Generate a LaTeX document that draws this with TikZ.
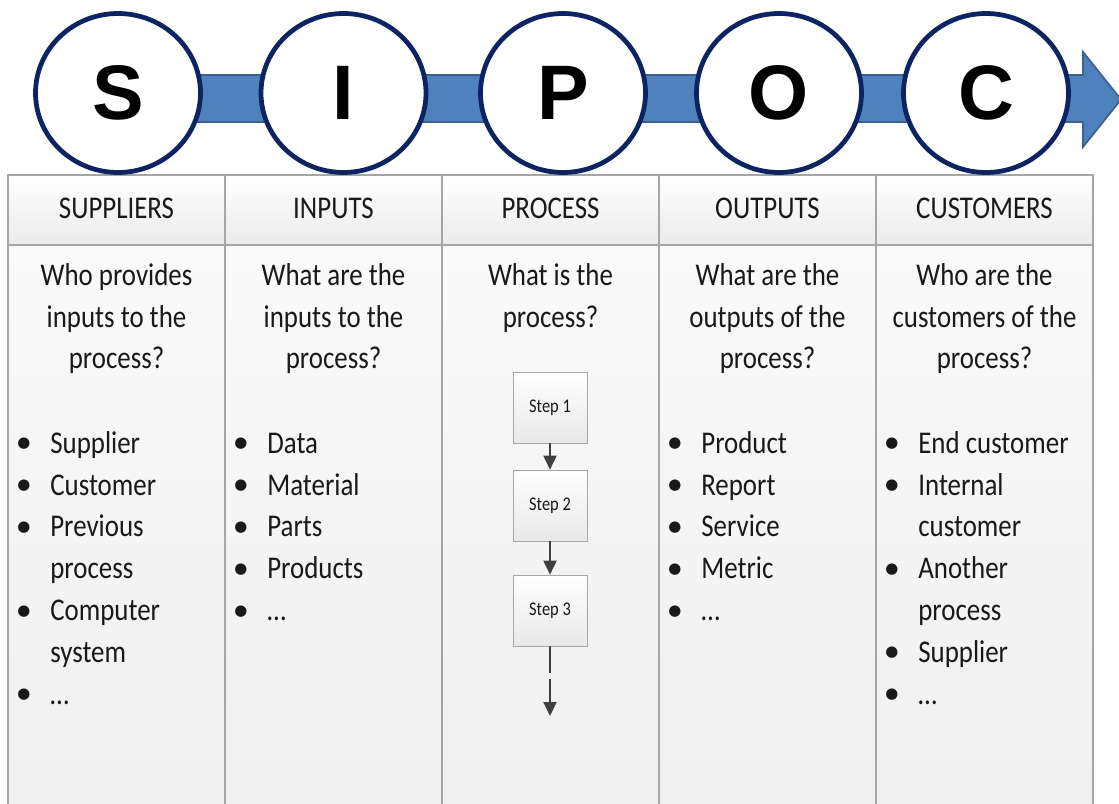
\documentclass[tikz,border=0pt]{standalone}
\usepackage{fontspec}
\setmainfont{Carlito}[FakeStretch=0.85]
\newfontfamily\letterfont{Liberation Sans}
\newfontfamily\dotfont{DejaVu Sans}
\usetikzlibrary{shapes.geometric,arrows.meta}
\definecolor{bandblue}{HTML}{4F81BD}
\definecolor{banddark}{HTML}{3B6190}
\definecolor{ringblue}{HTML}{0C2462}
\definecolor{gridgray}{HTML}{A6A6A6}
\definecolor{arrowgray}{HTML}{404040}
\newcommand{\bul}{\makebox[0.66cm][l]{\raisebox{0.17em}{\dotfont\fontsize{8.5}{8.5}\selectfont ●}}}
\newcommand{\ind}{\makebox[0.66cm]{}}
\begin{document}
\begin{tikzpicture}[x=0.02cm,y=-0.02cm]
    \useasboundingbox (0,0) rectangle (1119,804);

    \foreach \l in {8,225,442,659,876} {
        \shade[top color=white,bottom color=black!8] (\l,175) rectangle ++(217,70);
        \shade[top color=white!98!black,bottom color=black!6] (\l,245) rectangle ++(217,559);
    }
    \begin{scope}[draw=gridgray,line width=0.7pt]
        \draw (8,804) -- (8,175) -- (1093,175) -- (1093,804);
        \draw (8,245) -- (1093,245);
        \foreach \l in {225,442,659,876}
            \draw (\l,175) -- (\l,804);
    \end{scope}

    \draw[banddark,fill=bandblue,line width=1pt] (150,75) -- (1083,75) -- (1083,52)
        -- (1121,99.5) -- (1083,147) -- (1083,122) -- (150,122) -- cycle;

    \begin{scope}[every node/.style={ellipse,draw=ringblue,line width=2.7pt,fill=white,
                minimum width=3.3cm,minimum height=3.18cm,inner sep=0pt,
                font=\letterfont\bfseries\fontsize{44}{44}\selectfont}]
        \node (S) at (118,93) {S};
        \node (I) at (343.5,93) {I};
        \node (P) at (563,93) {P};
        \node (O) at (779,93) {O};
        \node (C) at (986,93) {C};
    \end{scope}

    \begin{scope}[every node/.style={anchor=base,text=black!90,font=\fontsize{18}{23.8}\selectfont}]
        \node (hs) at (116.5,219) {SUPPLIERS};
        \node (hi) at (333.5,219) {INPUTS};
        \node (hp) at (550.5,219) {PROCESS};
        \node (ho) at (767.5,219) {OUTPUTS};
        \node (hc) at (984.5,219) {CUSTOMERS};
    \end{scope}

    \begin{scope}[every node/.style={anchor=north,align=center,inner sep=0pt,text=black!90,
                font=\fontsize{18}{23.8}\selectfont}]
        \node (qs) at (116.5,255.6) {\strut Who provides\\inputs to the\\process?};
        \node (qi) at (333.5,255.6) {\strut What are the\\inputs to the\\process?};
        \node (qp) at (550.5,255.6) {\strut What is the\\process?};
        \node (qo) at (767.5,255.6) {\strut What are the\\outputs of the\\process?};
        \node (qc) at (984.5,255.6) {\strut Who are the\\customers of the\\process?};
    \end{scope}

    \begin{scope}[every node/.style={anchor=north west,align=left,inner sep=0pt,text=black!90,
                font=\fontsize{18}{23.8}\selectfont}]
        \node (ls) at (17,423.6) {\strut\bul Supplier\\\bul Customer\\\bul Previous\\\ind process\\
            \bul Computer\\\ind system\\\bul …};
        \node (li) at (234,423.6) {\strut\bul Data\\\bul Material\\\bul Parts\\\bul Products\\\bul …};
        \node (lo) at (668,423.6) {\strut\bul Product\\\bul Report\\\bul Service\\\bul Metric\\\bul …};
        \node (lc) at (885,423.6) {\strut\bul End customer\\\bul Internal\\\ind customer\\
            \bul Another\\\ind process\\\bul Supplier\\\bul …};
    \end{scope}

    \begin{scope}[every node/.style={draw=gridgray,top color=white,bottom color=black!9,
                minimum width=1.48cm,minimum height=1.42cm,inner sep=0pt,text=black!90,
                font=\fontsize{11}{12}\selectfont}]
        \node (st1) at (550,407.5) {Step 1};
        \node (st2) at (550,505.5) {Step 2};
        \node (st3) at (550,610.5) {Step 3};
    \end{scope}
    \coordinate (more) at (550,716);

    \begin{scope}[every edge/.style={draw=arrowgray,line width=1.1pt,
                -{Triangle[length=0.28cm,width=0.26cm]}}]
        \path (st1) edge (st2);
        \path (st2) edge (st3);
        \path (st3) edge[dash pattern=on 0.54cm off 0.12cm] (more);
    \end{scope}
\end{tikzpicture}
\end{document}
